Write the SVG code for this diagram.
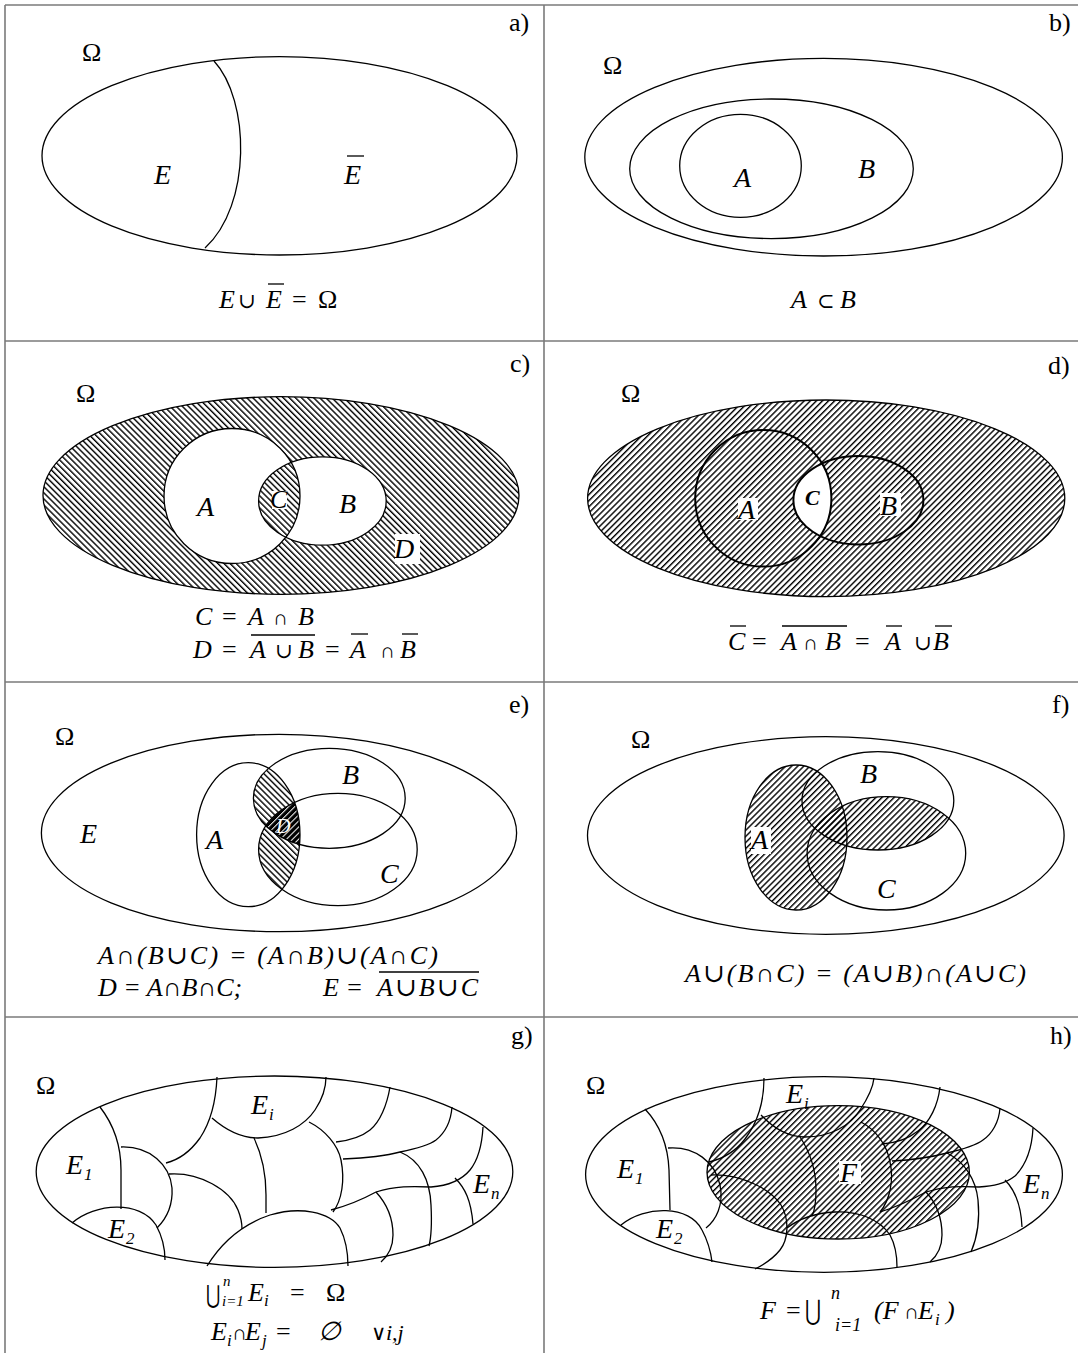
<svg xmlns="http://www.w3.org/2000/svg" width="1078" height="1353" viewBox="0 0 1078 1353">
<defs>
<style>
.ln{fill:none;stroke:#000;stroke-width:1.3}
.lnb{fill:none;stroke:#000;stroke-width:2}
.bd{fill:none;stroke:#7a7a7a;stroke-width:1.6}
.ol{stroke:#000;stroke-width:1.3}
.t{font-family:"Liberation Serif","DejaVu Serif",serif;font-size:26px;fill:#000}
.i{font-style:italic}
.lb{font-size:28px}
.pl{font-size:26px}
.sb{font-size:17px}
.sy{font-size:21px;font-style:normal}
.wb{fill:#fff}
</style>
<pattern id="hb" patternUnits="userSpaceOnUse" width="4.3" height="4.3" patternTransform="rotate(-45)"><rect width="1.4" height="4.3" fill="#000"/></pattern>
<pattern id="hf" patternUnits="userSpaceOnUse" width="4.3" height="4.3" patternTransform="rotate(45)"><rect width="1.4" height="4.3" fill="#000"/></pattern>
<pattern id="hd" patternUnits="userSpaceOnUse" width="4.3" height="4.3" patternTransform="rotate(45)"><rect width="4.3" height="4.3" fill="#000"/><rect width="1" height="4.3" fill="#fff"/></pattern>
<clipPath id="cA"><ellipse cx="232" cy="496" rx="68" ry="67.5"/></clipPath>
<clipPath id="dA"><ellipse cx="763.3" cy="498.3" rx="68.1" ry="68.3"/></clipPath>
<clipPath id="eA"><ellipse cx="248.3" cy="834.7" rx="51.7" ry="72"/></clipPath>
<clipPath id="eB"><ellipse cx="329.3" cy="798.3" rx="75.9" ry="50"/></clipPath>
<clipPath id="fB"><ellipse cx="877.9" cy="800.8" rx="75.9" ry="49.2"/></clipPath>
</defs>
<rect width="1078" height="1353" fill="#fff"/>

<g id="grid">
<line class="bd" x1="5" y1="5" x2="1078" y2="5"/>
<line class="bd" x1="5" y1="5" x2="5" y2="1353"/>
<line class="bd" x1="544" y1="5" x2="544" y2="1353"/>
<line class="bd" x1="5" y1="341" x2="1078" y2="341"/>
<line class="bd" x1="5" y1="682" x2="1078" y2="682"/>
<line class="bd" x1="5" y1="1017" x2="1078" y2="1017"/>
</g>

<!-- panel a -->
<g id="panel-a">
<text class="t pl" x="509" y="31">a)</text>
<text class="t pl" x="82" y="61">Ω</text>
<ellipse class="ln" cx="279.5" cy="155.8" rx="237.5" ry="99.2"/>
<path class="ln" d="M214,61 C 250,100 252,205 205,248"/>
<text class="t i lb" x="154" y="184">E</text>
<text class="t i lb" x="344" y="184">E</text>
<line class="ol" x1="347" y1="156" x2="364" y2="156"/>
<text class="t i" x="219" y="308">E</text>
<text class="t sy" x="238" y="308">∪</text>
<text class="t i" x="266" y="308">E</text>
<line class="ol" x1="268" y1="284" x2="284" y2="284"/>
<text class="t" x="292" y="308">=</text>
<text class="t" x="318" y="308">Ω</text>
</g>

<!-- panel b -->
<g id="panel-b">
<text class="t pl" x="1049" y="31">b)</text>
<text class="t pl" x="603" y="74">Ω</text>
<ellipse class="ln" cx="823.6" cy="157.2" rx="238.8" ry="98.8"/>
<ellipse class="ln" cx="771.5" cy="168.8" rx="141.8" ry="69.8"/>
<ellipse class="ln" cx="740.5" cy="165.8" rx="60.8" ry="51.5"/>
<text class="t i lb" x="734" y="187">A</text>
<text class="t i lb" x="858" y="178">B</text>
<text class="t i" x="791" y="308">A</text>
<text class="t sy" x="817" y="308">⊂</text>
<text class="t i" x="840" y="308">B</text>
</g>

<!-- panel c -->
<g id="panel-c">
<text class="t pl" x="510" y="372">c)</text>
<text class="t pl" x="76" y="402">Ω</text>
<ellipse cx="281" cy="495.5" rx="238" ry="98.8" fill="url(#hb)"/>
<ellipse cx="232" cy="496" rx="68" ry="67.5" fill="#fff"/>
<ellipse cx="322.4" cy="501" rx="63.8" ry="44.2" fill="#fff"/>
<ellipse cx="322.4" cy="501" rx="63.8" ry="44.2" fill="url(#hb)" clip-path="url(#cA)"/>
<ellipse class="ln" cx="281" cy="495.5" rx="238" ry="98.8"/>
<ellipse class="ln" cx="232" cy="496" rx="68" ry="67.5"/>
<ellipse class="ln" cx="322.4" cy="501" rx="63.8" ry="44.2"/>
<rect class="wb" x="272" y="491" width="15" height="18"/>
<rect class="wb" x="395" y="534" width="25" height="30"/>
<text class="t i lb" x="197" y="516">A</text>
<text class="t i" x="270" y="508">C</text>
<text class="t i lb" x="339" y="513">B</text>
<text class="t i lb" x="394" y="558">D</text>
<text class="t i" x="195" y="625">C</text>
<text class="t" x="222" y="625">=</text>
<text class="t i" x="248" y="625">A</text>
<text class="t sy" x="273" y="625">∩</text>
<text class="t i" x="298" y="625">B</text>
<text class="t i" x="193" y="658">D</text>
<text class="t" x="222" y="658">=</text>
<text class="t i" x="250" y="658">A</text>
<text class="t sy" x="275" y="658">∪</text>
<text class="t i" x="298" y="658">B</text>
<line class="ol" x1="251" y1="635" x2="315" y2="635"/>
<text class="t" x="325" y="658">=</text>
<text class="t i" x="350" y="658">A</text>
<line class="ol" x1="351" y1="634" x2="368" y2="634"/>
<text class="t sy" x="380" y="658">∩</text>
<text class="t i" x="400" y="658">B</text>
<line class="ol" x1="402" y1="634" x2="418" y2="634"/>
</g>

<!-- panel d -->
<g id="panel-d">
<text class="t pl" x="1048" y="374">d)</text>
<text class="t pl" x="621" y="402">Ω</text>
<ellipse cx="826.2" cy="498.3" rx="238.6" ry="98.3" fill="url(#hf)"/>
<ellipse cx="858.4" cy="500.2" rx="65" ry="44.2" fill="#fff" clip-path="url(#dA)"/>
<ellipse class="ln" cx="826.2" cy="498.3" rx="238.6" ry="98.3"/>
<ellipse class="lnb" cx="763.3" cy="498.3" rx="68.1" ry="68.3"/>
<ellipse class="lnb" cx="858.4" cy="500.2" rx="65" ry="44.2"/>
<rect class="wb" x="738" y="498" width="20" height="22"/>
<rect class="wb" x="880" y="493" width="21" height="23"/>
<text class="t i lb" x="738" y="519">A</text>
<text class="t i lb" x="880" y="515">B</text>
<text class="t i" x="805" y="505" style="font-weight:bold;font-size:22px">C</text>
<text class="t i" x="728" y="650">C</text>
<line class="ol" x1="730" y1="626" x2="746" y2="626"/>
<text class="t" x="752" y="650">=</text>
<text class="t i" x="781" y="650">A</text>
<text class="t sy" x="803" y="650">∩</text>
<text class="t i" x="825" y="650">B</text>
<line class="ol" x1="782" y1="626" x2="847" y2="626"/>
<text class="t" x="855" y="650">=</text>
<text class="t i" x="885" y="650">A</text>
<line class="ol" x1="886" y1="626" x2="902" y2="626"/>
<text class="t sy" x="914" y="650">∪</text>
<text class="t i" x="933" y="650">B</text>
<line class="ol" x1="935" y1="626" x2="952" y2="626"/>
</g>

<!-- panel e -->
<g id="panel-e">
<text class="t pl" x="509" y="713">e)</text>
<text class="t pl" x="55" y="745">Ω</text>
<ellipse cx="329.3" cy="798.3" rx="75.9" ry="50" fill="url(#hb)" clip-path="url(#eA)"/>
<ellipse cx="337.9" cy="849.5" rx="79.3" ry="56.2" fill="url(#hb)" clip-path="url(#eA)"/>
<g clip-path="url(#eA)"><ellipse cx="337.9" cy="849.5" rx="79.3" ry="56.2" fill="url(#hd)" clip-path="url(#eB)"/></g>
<ellipse class="ln" cx="279" cy="833" rx="237.6" ry="98.7"/>
<ellipse class="ln" cx="248.3" cy="834.7" rx="51.7" ry="72"/>
<ellipse class="ln" cx="329.3" cy="798.3" rx="75.9" ry="50"/>
<ellipse class="ln" cx="337.9" cy="849.5" rx="79.3" ry="56.2"/>
<text class="t i lb" x="80" y="843">E</text>
<text class="t i lb" x="206" y="849">A</text>
<text class="t i lb" x="342" y="784">B</text>
<text class="t i lb" x="380" y="883">C</text>
<text class="t i" x="276" y="833" style="font-size:20px;fill:#fff">D</text>
<text class="t i" x="98" y="964" textLength="340" lengthAdjust="spacing">A∩(B∪C) = (A∩B)∪(A∩C)</text>
<text class="t i" x="98" y="996">D = A∩B∩C;</text>
<text class="t i" x="323" y="996">E =</text>
<text class="t i" x="377" y="996" textLength="101" lengthAdjust="spacing">A∪B∪C</text>
<line class="ol" x1="379" y1="972" x2="479" y2="972"/>
</g>

<!-- panel f -->
<g id="panel-f">
<text class="t pl" x="1052" y="713">f)</text>
<text class="t pl" x="631" y="748">Ω</text>
<ellipse cx="796" cy="837.5" rx="51" ry="72.5" fill="url(#hf)"/>
<ellipse cx="886.4" cy="853.3" rx="79.3" ry="56.7" fill="url(#hf)" clip-path="url(#fB)"/>
<ellipse class="ln" cx="825.8" cy="835.5" rx="238.3" ry="98.8"/>
<ellipse class="ln" cx="796" cy="837.5" rx="51" ry="72.5"/>
<ellipse class="ln" cx="877.9" cy="800.8" rx="75.9" ry="49.2"/>
<ellipse class="ln" cx="886.4" cy="853.3" rx="79.3" ry="56.7"/>
<rect class="wb" x="751" y="827" width="20" height="27"/>
<text class="t i lb" x="751" y="849">A</text>
<text class="t i lb" x="860" y="783">B</text>
<text class="t i lb" x="877" y="898">C</text>
<text class="t i" x="685" y="982" textLength="341" lengthAdjust="spacing">A∪(B∩C) = (A∪B)∩(A∪C)</text>
</g>

<!-- panel g -->
<g id="panel-g">
<text class="t pl" x="511" y="1044">g)</text>
<text class="t pl" x="36" y="1094">Ω</text>
<ellipse class="ln" cx="274.5" cy="1171.7" rx="238.3" ry="95.7"/>
<g id="g-parts" class="ln">
<path d="M100,1107 C 114,1125 121,1145 121,1170 L 121,1209"/>
<path d="M72,1223 C 95,1203 140,1200 156,1225 C 162,1236 165,1248 165,1260"/>
<path d="M121,1147 C 150,1146 170,1165 172,1188 C 173,1205 166,1219 157,1228"/>
<path d="M217,1077 C 216,1100 212,1120 200,1138 C 190,1152 178,1160 166,1163"/>
<path d="M212,1118 C 228,1132 244,1138 258,1138 C 285,1137 305,1125 315,1110 C 323,1098 326,1087 326,1077"/>
<path d="M169,1174 C 200,1172 230,1190 238,1210 Q 242,1220 242,1229"/>
<path d="M254,1138 C 262,1155 266,1175 266,1195 L 266,1213"/>
<path d="M207,1266 C 220,1245 240,1225 270,1215 C 300,1206 330,1212 340,1228 C 346,1240 348,1255 348,1266"/>
<path d="M309,1122 C 325,1130 338,1145 341,1160 C 345,1180 342,1200 333,1212"/>
<path d="M390,1087 C 387,1105 380,1122 370,1130 C 360,1138 345,1141 336,1142"/>
<path d="M343,1159 C 365,1158 385,1156 400,1152 C 415,1149 428,1146 436,1140 C 446,1132 451,1120 452,1107"/>
<path d="M400,1152 C 420,1160 430,1180 431,1205 C 432,1225 431,1238 429,1246"/>
<path d="M483,1127 C 482,1145 478,1160 470,1170 C 460,1182 445,1186 431,1187"/>
<path d="M455,1178 C 465,1188 471,1200 473,1224"/>
<path d="M331,1210 C 350,1205 365,1198 376,1192 C 395,1186 412,1186 431,1187"/>
<path d="M376,1192 C 388,1205 393,1220 393,1235 C 393,1248 388,1256 381,1262"/>
</g>
<text class="t i lb" x="66" y="1174">E</text><text class="t i sb" x="84" y="1180">1</text>
<text class="t i lb" x="108" y="1238">E</text><text class="t i sb" x="126" y="1244">2</text>
<text class="t i lb" x="251" y="1114">E</text><text class="t i sb" x="269" y="1120">i</text>
<text class="t i lb" x="473" y="1193">E</text><text class="t i sb" x="491" y="1199">n</text>
<text class="t" transform="translate(206,1303) scale(0.8,1.15)" style="font-size:22px">⋃</text>
<text class="t i" x="223" y="1286" style="font-size:15px">n</text>
<text class="t i" x="222" y="1306" style="font-size:15px">i=1</text>
<text class="t i" x="248" y="1301">E</text><text class="t i sb" x="264" y="1306">i</text>
<text class="t" x="290" y="1301">=</text>
<text class="t" x="326" y="1301">Ω</text>
<text class="t i" x="211" y="1340">E</text><text class="t i sb" x="227" y="1346">i</text>
<text class="t sy" x="232" y="1340">∩</text>
<text class="t i" x="245" y="1340">E</text><text class="t i sb" x="262" y="1346">j</text>
<text class="t" x="276" y="1340">=</text>
<text class="t i" x="318" y="1340">∅</text>
<text class="t sy" x="371" y="1340">∨</text>
<text class="t i" x="386" y="1340" style="font-size:22px">i,j</text>
</g>

<!-- panel h -->
<g id="panel-h">
<text class="t pl" x="1050" y="1044">h)</text>
<text class="t pl" x="586" y="1094">Ω</text>
<ellipse cx="838.2" cy="1172.3" rx="131.2" ry="66.7" fill="url(#hf)"/>
<ellipse class="ln" cx="824" cy="1174.5" rx="238.4" ry="97.8"/>
<ellipse class="ln" cx="838.2" cy="1172.3" rx="131.2" ry="66.7"/>
<g id="h-parts" class="ln">
<path d="M645,1109 C 660,1125 668,1145 669,1170 L 670,1210"/>
<path d="M621,1225 C 645,1205 690,1205 702,1230 Q 710,1245 712,1262"/>
<path d="M668,1148 C 695,1146 715,1162 720,1185 C 724,1205 716,1220 706,1228"/>
<path d="M764,1078 C 764,1100 758,1122 745,1139 C 735,1152 722,1159 709,1162"/>
<path d="M761,1115 C 775,1130 790,1137 805,1137 C 830,1137 850,1126 860,1110 C 868,1098 873,1088 874,1078"/>
<path d="M711,1175 C 740,1174 770,1188 781,1205 C 790,1220 788,1240 780,1250 C 772,1260 763,1265 755,1269"/>
<path d="M800,1137 C 810,1152 816,1170 816,1190 C 816,1202 815,1210 812,1216"/>
<path d="M787,1228 C 800,1218 815,1213 835,1212 C 860,1211 880,1220 890,1235 C 896,1246 897,1258 897,1267"/>
<path d="M861,1122 C 876,1130 887,1145 890,1162 C 894,1180 890,1200 880,1212"/>
<path d="M940,1087 C 938,1105 930,1122 918,1131 C 908,1139 895,1143 882,1144"/>
<path d="M892,1161 C 912,1160 932,1157 947,1153 C 960,1150 975,1146 983,1140 C 992,1134 999,1122 1000,1108"/>
<path d="M947,1153 C 965,1162 976,1180 978,1200 C 980,1220 977,1238 971,1252"/>
<path d="M1033,1128 C 1032,1148 1026,1165 1015,1176 C 1005,1184 993,1186 979,1187"/>
<path d="M1005,1180 C 1015,1190 1021,1205 1022,1227"/>
<path d="M880,1212 C 900,1206 915,1198 926,1192 C 945,1186 960,1186 979,1187"/>
<path d="M926,1192 C 938,1205 942,1220 942,1235 C 942,1248 937,1256 930,1262"/>
</g>
<rect class="wb" x="839" y="1161" width="22" height="23"/>
<text class="t i lb" x="840" y="1182">F</text>
<text class="t i lb" x="786" y="1103">E</text><text class="t i sb" x="804" y="1109">i</text>
<text class="t i lb" x="617" y="1178">E</text><text class="t i sb" x="635" y="1184">1</text>
<text class="t i lb" x="656" y="1238">E</text><text class="t i sb" x="674" y="1244">2</text>
<text class="t i lb" x="1023" y="1193">E</text><text class="t i sb" x="1041" y="1199">n</text>
<text class="t i" x="760" y="1319">F</text>
<text class="t" x="786" y="1319">=</text>
<text class="t" transform="translate(805,1320) scale(0.8,1.15)" style="font-size:24px">⋃</text>
<text class="t i" x="831" y="1299" style="font-size:18px">n</text>
<text class="t i" x="835" y="1331" style="font-size:18px">i=1</text>
<text class="t i" x="874" y="1319">(F</text>
<text class="t sy" x="904" y="1319">∩</text>
<text class="t i" x="918" y="1319">E</text><text class="t i sb" x="935" y="1325">i</text>
<text class="t i" x="946" y="1319">)</text>
</g>
</svg>
